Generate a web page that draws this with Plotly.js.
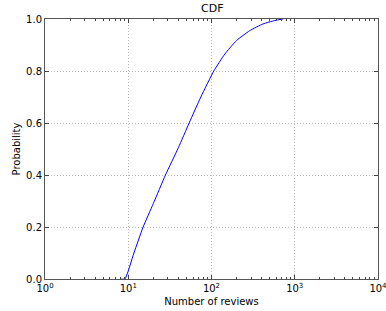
<!DOCTYPE html>
<html>
<head>
<meta charset="utf-8">
<script src="https://cdn.plot.ly/plotly-3.0.1.min.js"></script>
<style>html,body{margin:0;padding:0;background:#fff;}#chart{width:386px;height:311px;}</style>
</head>
<body>
<div id="chart"></div>
<script>
var reviews = [8, 9.1, 11.7, 15.1, 20, 28, 40, 53.9, 74.5, 106.6, 144.5, 199.6, 288, 416, 574, 722];
var probability = [0, 0, 0.1, 0.2, 0.29, 0.4, 0.505, 0.6, 0.7, 0.8, 0.865, 0.917, 0.955, 0.981, 0.994, 1.0];
var xTickVals = [1, 10, 100, 1000, 10000];
var xTickText = ['10<sup>0</sup>', '10<sup>1</sup>', '10<sup>2</sup>', '10<sup>3</sup>', '10<sup>4</sup>'];
var yTickVals = [0, 0.2, 0.4, 0.6, 0.8, 1.0];

var trace = {
  x: reviews, y: probability, type: 'scatter', mode: 'lines',
  line: {color: '#0000ff', width: 1, shape: 'spline', smoothing: 0.5}, hoverinfo: 'none'
};
var font = {family: 'DejaVu Sans, sans-serif', size: 10, color: '#000'};
var layout = {
  width: 386, height: 311,
  margin: {l: 45, r: 8, t: 19, b: 32},
  paper_bgcolor: '#fff', plot_bgcolor: '#fff',
  showlegend: false,
  font: font,
  title: {text: 'CDF', font: {family: 'DejaVu Sans, sans-serif', size: 11, color: '#000'}, x: 0.55, xanchor: 'center', y: 0.985, yanchor: 'top'},
  xaxis: {
    type: 'log', range: [0, 4.0002],
    tickvals: xTickVals, ticktext: xTickText, ticklabeloverflow: 'allow',
    ticks: 'inside', ticklen: 4, tickcolor: '#444',
    showline: true, linecolor: '#555', linewidth: 1, mirror: 'allticks',
    showgrid: true, gridcolor: '#b8b8b8', griddash: '1px,2px', gridwidth: 1,
    zeroline: false,
    minor: {ticks: 'inside', ticklen: 2, tickcolor: '#444', dtick: 'D1', showgrid: false},
    tickfont: {family: 'DejaVu Sans, sans-serif', size: 10, color: '#000'},
    title: {text: 'Number of reviews', font: {family: 'DejaVu Sans, sans-serif', size: 10, color: '#000'}, standoff: 4}
  },
  yaxis: {
    range: [0, 1], tickvals: yTickVals, tickformat: '.1f',
    ticks: 'inside', ticklen: 4, tickcolor: '#444',
    showline: true, linecolor: '#555', linewidth: 1, mirror: 'allticks',
    showgrid: true, gridcolor: '#b8b8b8', griddash: '1px,2px', gridwidth: 1,
    zeroline: false,
    tickfont: {family: 'DejaVu Sans, sans-serif', size: 10, color: '#000'},
    title: {text: 'Probability', font: {family: 'DejaVu Sans, sans-serif', size: 10, color: '#000'}, standoff: 3}
  }
};
Plotly.newPlot('chart', [trace], layout, {staticPlot: true, displayModeBar: false});
</script>
</body>
</html>
